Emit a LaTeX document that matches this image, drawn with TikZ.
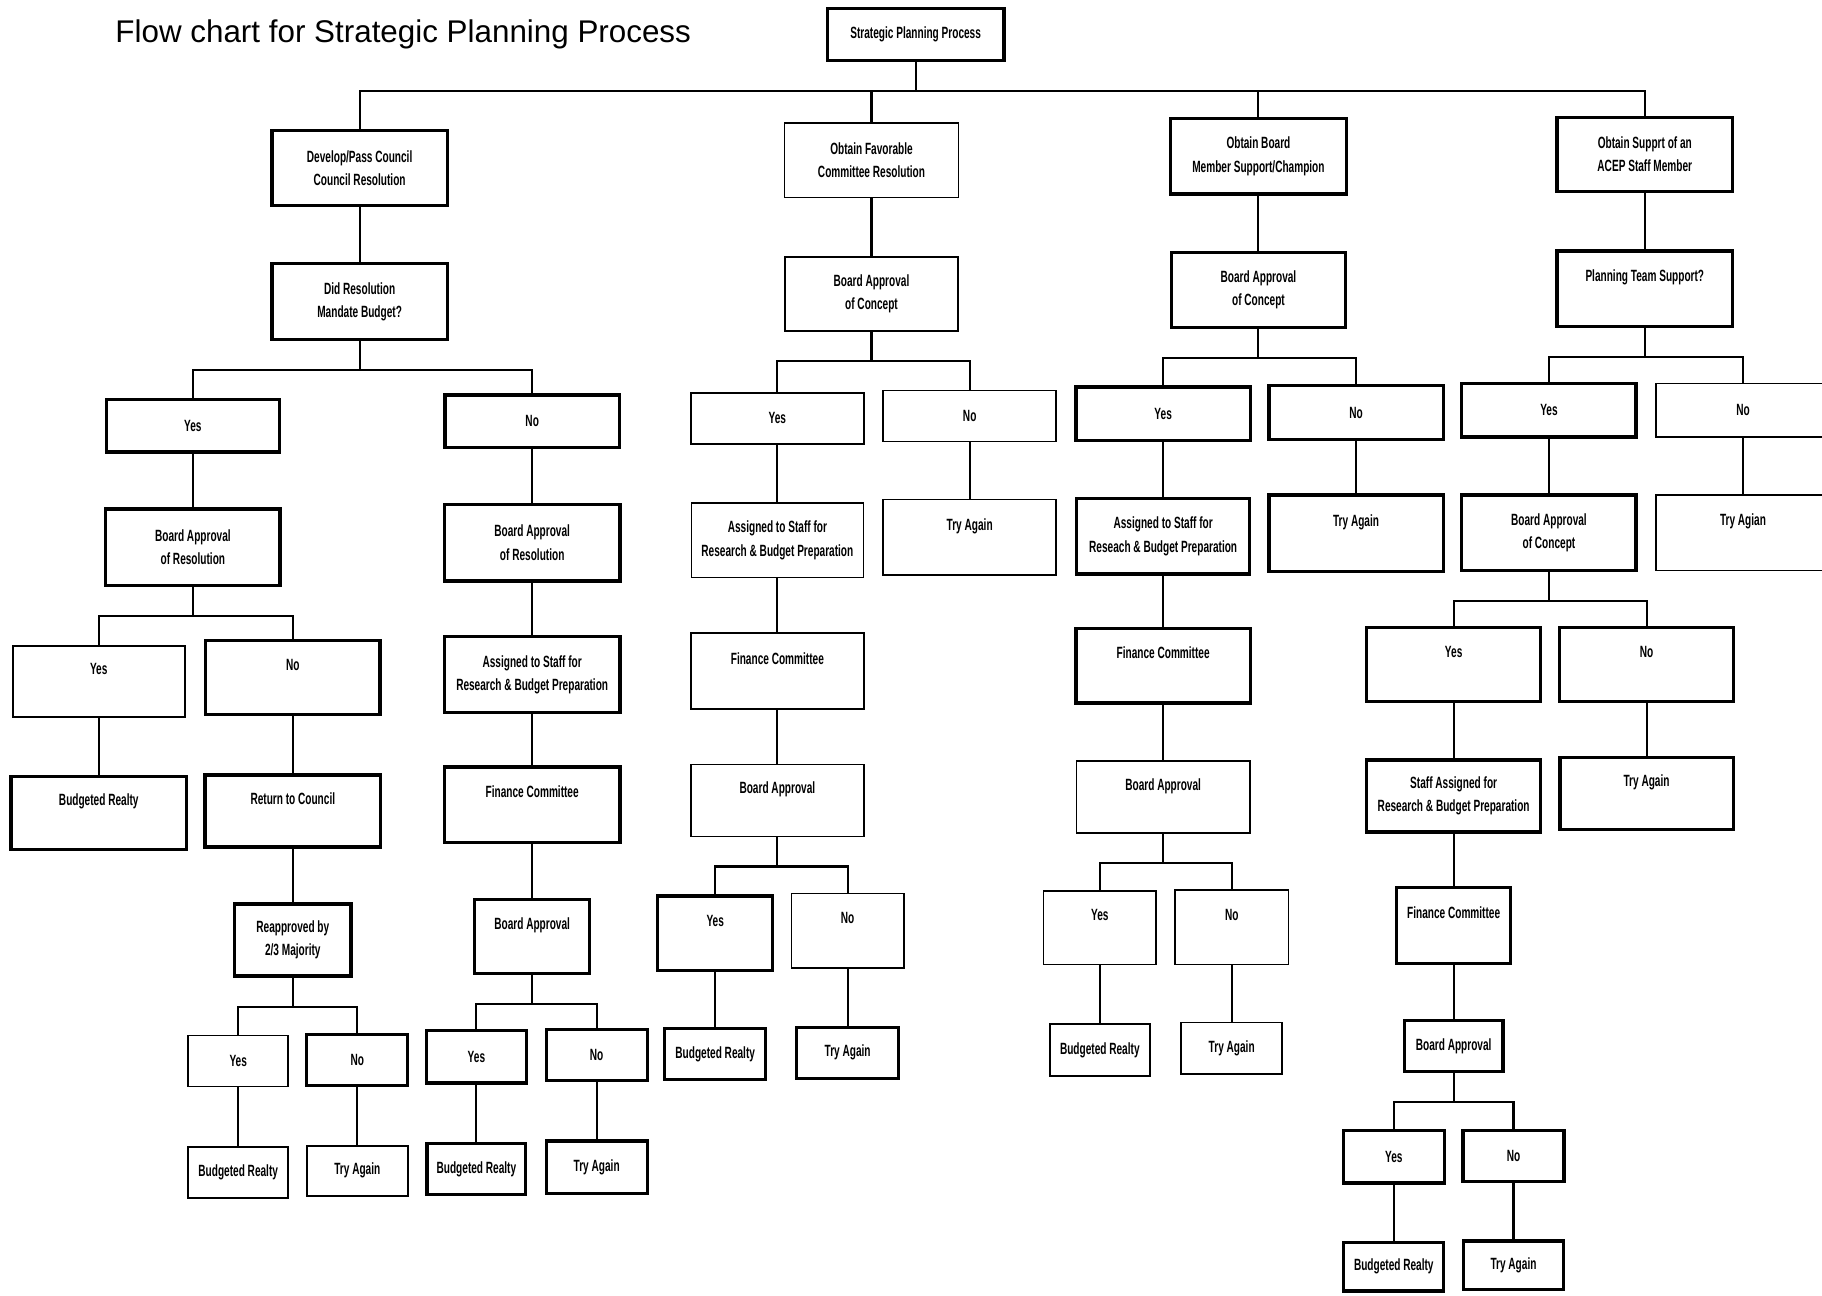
\documentclass[tikz,border=0pt]{standalone}
\usepackage{fontspec}
\setmainfont{Liberation Sans}
\newfontfamily\boxfont[FakeStretch=0.62]{Liberation Sans}
\usepackage{tikz}

\begin{document}
\begin{tikzpicture}[x=1pt, y=-1pt,
  bx/.style={draw, line width=1.4pt, align=center, inner sep=0pt, font=\boxfont\bfseries\fontsize{14}{20}\selectfont},
  bxt/.style={bx, line width=2.8pt},
  wh/.style 2 args={minimum width=#1pt, minimum height=#2pt},
  up/.style={text height=10pt, text depth=22pt},
  conn/.style={line width=1.8pt}]
\useasboundingbox (0,0) rectangle (1568,1115);
\clip (0,0) rectangle (1568,1115);
\node[font=\fontsize{27}{32}\selectfont] (title) at (347,30) {Flow chart for Strategic Planning Process};
\node[bxt, wh={152}{45}] (top) at (788,29.5) {Strategic Planning Process};
\node[bxt, wh={151}{65}] (a1) at (309.5,144.5) {Develop/Pass Council\\Council Resolution};
\node[bx, wh={150}{64}] (b1) at (750,138) {Obtain Favorable\\Committee Resolution};
\node[bxt, wh={152}{65}] (c1) at (1083,134.5) {Obtain Board\\Member Support/Champion};
\node[bxt, wh={151}{64}] (d1) at (1415.5,133) {Obtain Supprt of an\\ACEP Staff Member};
\draw[conn] (top.south) -- ++(0,25) coordinate (topj);
\draw[conn] (a1.north) |- (topj) -| (d1.north);
\draw[conn] (topj -| b1.north) -- (b1.north);
\draw[conn] (topj -| c1.north) -- (c1.north);

\node[bxt, wh={151}{65}] (a2) at (309.5,259.5) {Did Resolution\\Mandate Budget?};
\node[bxt, wh={149}{45}] (a3y) at (166,366.5) {Yes};
\node[bxt, wh={150}{45}] (a3n) at (458,362.5) {No};
\draw[conn] (a1.south) -- (a2.north);
\draw[conn] (a2.south) -- ++(0,25) coordinate (a2j);
\draw[conn] (a3y.north) |- (a2j) -| (a3n.north);

\node[bxt, wh={150}{66}] (a4y) at (166,471) {Board Approval\\of Resolution};
\node[bx, up, wh={148}{61}] (a5y) at (85,586.5) {Yes};
\node[bxt, up, wh={150}{64}] (a5n) at (252,583) {No};
\node[bxt, up, wh={151}{63}] (a6y) at (85,699.5) {Budgeted Realty};
\node[bxt, up, wh={151}{62}] (a6n) at (252,698) {Return to Council};
\node[bxt, wh={100}{62}] (a7) at (252,809) {Reapproved by\\2/3 Majority};
\node[bx, wh={86}{44}] (a8y) at (205,913) {Yes};
\node[bxt, wh={87}{44}] (a8n) at (307.5,912) {No};
\node[bx, wh={86}{44}] (a9y) at (205,1009) {Budgeted Realty};
\node[bx, wh={87}{43}] (a9n) at (307.5,1007.5) {Try Again};
\draw[conn] (a3y.south) -- (a4y.north);
\draw[conn] (a4y.south) -- ++(0,25) coordinate (a4j);
\draw[conn] (a5y.north) |- (a4j) -| (a5n.north);
\draw[conn] (a5y.south) -- (a6y.north);
\draw[conn] (a5n.south) -- (a6n.north);
\draw[conn] (a6n.south) -- (a7.north);
\draw[conn] (a7.south) -- ++(0,25) coordinate (a7j);
\draw[conn] (a8y.north) |- (a7j) -| (a8n.north);
\draw[conn] (a8y.south) -- (a9y.north);
\draw[conn] (a8n.south) -- (a9n.north);

\node[bxt, wh={151}{66}] (a4n) at (458,467) {Board Approval\\of Resolution};
\node[bxt, wh={151}{65}] (a5r) at (458,580.5) {Assigned to Staff for\\Research \& Budget Preparation};
\node[bxt, up, wh={151}{65}] (a6r) at (458,692.5) {Finance Committee};
\node[bxt, up, wh={99}{64}] (a7r) at (458,806) {Board Approval};
\node[bxt, wh={86}{45}] (a8ry) at (410,909.5) {Yes};
\node[bxt, wh={87}{44}] (a8rn) at (513.5,908) {No};
\node[bxt, wh={85}{44}] (a9ry) at (410,1006) {Budgeted Realty};
\node[bxt, wh={87}{45}] (a9rn) at (513.5,1004.5) {Try Again};
\draw[conn] (a3n.south) -- (a4n.north);
\draw[conn] (a4n.south) -- (a5r.north);
\draw[conn] (a5r.south) -- (a6r.north);
\draw[conn] (a6r.south) -- (a7r.north);
\draw[conn] (a7r.south) -- ++(0,25) coordinate (a7rj);
\draw[conn] (a8ry.north) |- (a7rj) -| (a8rn.north);
\draw[conn] (a8ry.south) -- (a9ry.north);
\draw[conn] (a8rn.south) -- (a9rn.north);

\node[bx, wh={149}{64}] (b2) at (750,253) {Board Approval\\of Concept};
\node[bx, wh={149}{44}] (b3y) at (669,360) {Yes};
\node[bx, wh={149}{44}] (b3n) at (834.5,358) {No};
\node[bx, wh={148}{64}] (b4y) at (669,465) {Assigned to Staff for\\Research \& Budget Preparation};
\node[bx, up, wh={149}{65}] (b4n) at (834.5,462.5) {Try Again};
\node[bx, up, wh={149}{65}] (b5) at (669,577.5) {Finance Committee};
\node[bx, up, wh={149}{62}] (b6) at (669,689) {Board Approval};
\node[bxt, up, wh={99}{64}] (b7y) at (615.5,803) {Yes};
\node[bx, up, wh={97}{64}] (b7n) at (729.5,801) {No};
\node[bxt, wh={87}{44}] (b8y) at (615.5,907) {Budgeted Realty};
\node[bxt, wh={88}{44}] (b8n) at (729.5,906) {Try Again};
\draw[conn] (b1.south) -- (b2.north);
\draw[conn] (b2.south) -- ++(0,25) coordinate (b2j);
\draw[conn] (b3y.north) |- (b2j) -| (b3n.north);
\draw[conn] (b3y.south) -- (b4y.north);
\draw[conn] (b3n.south) -- (b4n.north);
\draw[conn] (b4y.south) -- (b5.north);
\draw[conn] (b5.south) -- (b6.north);
\draw[conn] (b6.south) -- ++(0,25) coordinate (b6j);
\draw[conn] (b7y.north) |- (b6j) -| (b7n.north);
\draw[conn] (b7y.south) -- (b8y.north);
\draw[conn] (b7n.south) -- (b8n.north);

\node[bxt, wh={150}{65}] (c2) at (1083,249.5) {Board Approval\\of Concept};
\node[bxt, wh={150}{46}] (c3y) at (1001,356) {Yes};
\node[bxt, wh={150}{46}] (c3n) at (1167,355) {No};
\node[bxt, wh={149}{65}] (c4y) at (1001,461.5) {Assigned to Staff for\\Reseach \& Budget Preparation};
\node[bxt, up, wh={150}{66}] (c4n) at (1167,459) {Try Again};
\node[bxt, up, wh={150}{64}] (c5) at (1001,573) {Finance Committee};
\node[bx, up, wh={149}{62}] (c6) at (1001,686) {Board Approval};
\node[bx, up, wh={97}{63}] (c7y) at (946.5,798.5) {Yes};
\node[bx, up, wh={98}{64}] (c7n) at (1060,798) {No};
\node[bx, wh={86}{45}] (c8y) at (946.5,903.5) {Budgeted Realty};
\node[bx, wh={87}{44}] (c8n) at (1060,902) {Try Again};
\draw[conn] (c1.south) -- (c2.north);
\draw[conn] (c2.south) -- ++(0,25) coordinate (c2j);
\draw[conn] (c3y.north) |- (c2j) -| (c3n.north);
\draw[conn] (c3y.south) -- (c4y.north);
\draw[conn] (c3n.south) -- (c4n.north);
\draw[conn] (c4y.south) -- (c5.north);
\draw[conn] (c5.south) -- (c6.north);
\draw[conn] (c6.south) -- ++(0,25) coordinate (c6j);
\draw[conn] (c7y.north) |- (c6j) -| (c7n.north);
\draw[conn] (c7y.south) -- (c8y.north);
\draw[conn] (c7n.south) -- (c8n.north);

\node[bxt, up, wh={151}{65}] (d2) at (1415.5,248.5) {Planning Team Support?};
\node[bxt, wh={150}{46}] (d3y) at (1333,353) {Yes};
\node[bx, wh={150}{46}] (d3n) at (1500,353) {No};
\node[bxt, wh={150}{65}] (d4y) at (1333,458.5) {Board Approval\\of Concept};
\node[bx, up, wh={150}{65}] (d4n) at (1500,458.5) {Try Agian};
\node[bxt, up, wh={150}{64}] (d5y) at (1251,572) {Yes};
\node[bxt, up, wh={150}{64}] (d5n) at (1417,572) {No};
\node[bxt, wh={150}{62}] (d6y) at (1251,685) {Staff Assigned for\\Research \& Budget Preparation};
\node[bxt, up, wh={149}{62}] (d6n) at (1417,683) {Try Again};
\node[bxt, up, wh={98}{65}] (d7) at (1251,796.5) {Finance Committee};
\node[bxt, wh={85}{44}] (d8) at (1251,900) {Board Approval};
\node[bxt, wh={87}{45}] (d9y) at (1199.5,995.5) {Yes};
\node[bxt, wh={87}{44}] (d9n) at (1302.5,995) {No};
\node[bxt, wh={86}{42}] (d10y) at (1199.5,1090) {Budgeted Realty};
\node[bxt, wh={86}{42}] (d10n) at (1302.5,1089) {Try Again};
\draw[conn] (d1.south) -- (d2.north);
\draw[conn] (d2.south) -- ++(0,25) coordinate (d2j);
\draw[conn] (d3y.north) |- (d2j) -| (d3n.north);
\draw[conn] (d3y.south) -- (d4y.north);
\draw[conn] (d3n.south) -- (d4n.north);
\draw[conn] (d4y.south) -- ++(0,25) coordinate (d4j);
\draw[conn] (d5y.north) |- (d4j) -| (d5n.north);
\draw[conn] (d5y.south) -- (d6y.north);
\draw[conn] (d5n.south) -- (d6n.north);
\draw[conn] (d6y.south) -- (d7.north);
\draw[conn] (d7.south) -- (d8.north);
\draw[conn] (d8.south) -- ++(0,25) coordinate (d8j);
\draw[conn] (d9y.north) |- (d8j) -| (d9n.north);
\draw[conn] (d9y.south) -- (d10y.north);
\draw[conn] (d9n.south) -- (d10n.north);
\end{tikzpicture}
\end{document}
